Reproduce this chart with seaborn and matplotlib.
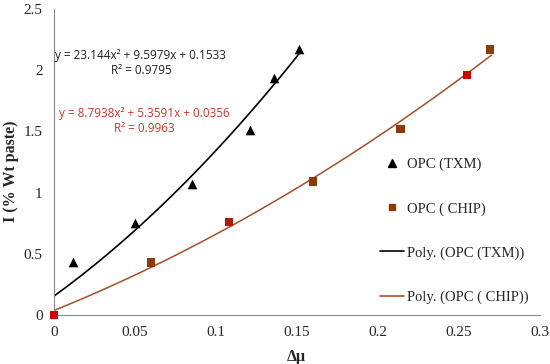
import matplotlib
matplotlib.use('Agg')

import numpy as np
import pandas as pd
import matplotlib.pyplot as plt
import seaborn as sns
from matplotlib.lines import Line2D

# =========================
# DATA
# =========================
txm_x = [0.012, 0.050, 0.085, 0.121, 0.136, 0.151]
txm_y = [0.43, 0.75, 1.07, 1.51, 1.94, 2.17]

chip_x = [0.000, 0.060, 0.108, 0.160, 0.214, 0.255, 0.269]
chip_y = [0.00, 0.43, 0.76, 1.09, 1.52, 1.96, 2.17]
chip_colors = ['#d40000', '#8b3a0a', '#b01a05', '#8b3a0a', '#8b3a0a', '#d40000', '#8b3a0a']

# trendline coefficients printed on the chart (a*x^2 + b*x + c)
txm_coef = [23.144, 9.5979, 0.1533]
chip_coef = [8.7938, 5.3591, 0.0356]
txm_range = [0.0, 0.152]
chip_range = [0.0, 0.27]

x_ticks = [0, 0.05, 0.1, 0.15, 0.2, 0.25, 0.3]
x_tick_labels = ['0', '0.05', '0.1', '0.15', '0.2', '0.25', '0.3']
y_ticks = [0, 0.5, 1, 1.5, 2, 2.5]
y_tick_labels = ['0', '0.5', '1', '1.5', '2', '2.5']

# =========================
# PLOT
# =========================
sns.set_style('white')
plt.rcParams['font.family'] = ['Liberation Serif', 'DejaVu Serif']

fig = plt.figure(figsize=(5.5, 3.64), dpi=100)
ax = fig.add_axes([0.098, 0.135, 0.884, 0.84])

txm_line_x = np.linspace(txm_range[0], txm_range[1], 100)
chip_line_x = np.linspace(chip_range[0], chip_range[1], 100)
sns.lineplot(x=txm_line_x, y=np.polyval(txm_coef, txm_line_x), color='black',
             linewidth=1.2, ax=ax)
sns.lineplot(x=chip_line_x, y=np.polyval(chip_coef, chip_line_x), color='#a0502a',
             linewidth=1.1, ax=ax)

sns.scatterplot(x=txm_x, y=txm_y, marker='^', color='black', s=48,
                edgecolor='black', linewidth=0, ax=ax, zorder=3, clip_on=False)
sns.scatterplot(x=chip_x, y=chip_y, marker='s', c=chip_colors, s=38,
                linewidth=0, ax=ax, zorder=3, clip_on=False)

ax.set_xlim(0, 0.3)
ax.set_ylim(0, 2.5)
ax.set_xticks(x_ticks)
ax.set_xticklabels(x_tick_labels)
ax.set_yticks(y_ticks)
ax.set_yticklabels(y_tick_labels)
ax.tick_params(axis='both', labelsize=11, direction='out', length=4,
               color='#888888', width=0.8, pad=4)

for side in ['top', 'right']:
    ax.spines[side].set_visible(False)
for side in ['left', 'bottom']:
    ax.spines[side].set_color('#888888')
    ax.spines[side].set_linewidth(0.8)

ax.set_xlabel('Δμ', fontsize=11.5, fontweight='bold')
ax.xaxis.set_label_coords(0.498, -0.111)
ax.set_ylabel('I (% Wt paste)', fontsize=11.5, fontweight='bold')
ax.yaxis.set_label_coords(-0.072, 0.47)

# trendline equations
ax.text(0.0537, 2.06, 'y = 23.144x² + 9.5979x + 0.1533\nR² = 0.9795',
        fontsize=8.5, color='#222222', ha='center', va='center',
        family=['Open Sans', 'DejaVu Sans'], linespacing=1.2)
ax.text(0.056, 1.585, 'y = 8.7938x² + 5.3591x + 0.0356\nR² = 0.9963',
        fontsize=8.5, color='#c0392b', ha='center', va='center',
        family=['Open Sans', 'DejaVu Sans'], linespacing=1.2)

handles = [
    Line2D([], [], marker='^', color='black', linestyle='none', markersize=5.5),
    Line2D([], [], marker='s', color='#8b3a0a', linestyle='none', markersize=5),
    Line2D([], [], color='black', linewidth=1.2),
    Line2D([], [], color='#a0502a', linewidth=1.2),
]
labels = ['OPC (TXM)', 'OPC ( CHIP)', 'Poly. (OPC (TXM))', 'Poly. (OPC ( CHIP))']
fig.legend(handles, labels, loc='upper left', bbox_to_anchor=(0.68, 0.582),
           frameon=False, fontsize=10.5, labelspacing=2.1, handlelength=1.64,
           handletextpad=0.2, borderaxespad=0)

plt.savefig('out.png', dpi=100)
print('Saved: out.png')
